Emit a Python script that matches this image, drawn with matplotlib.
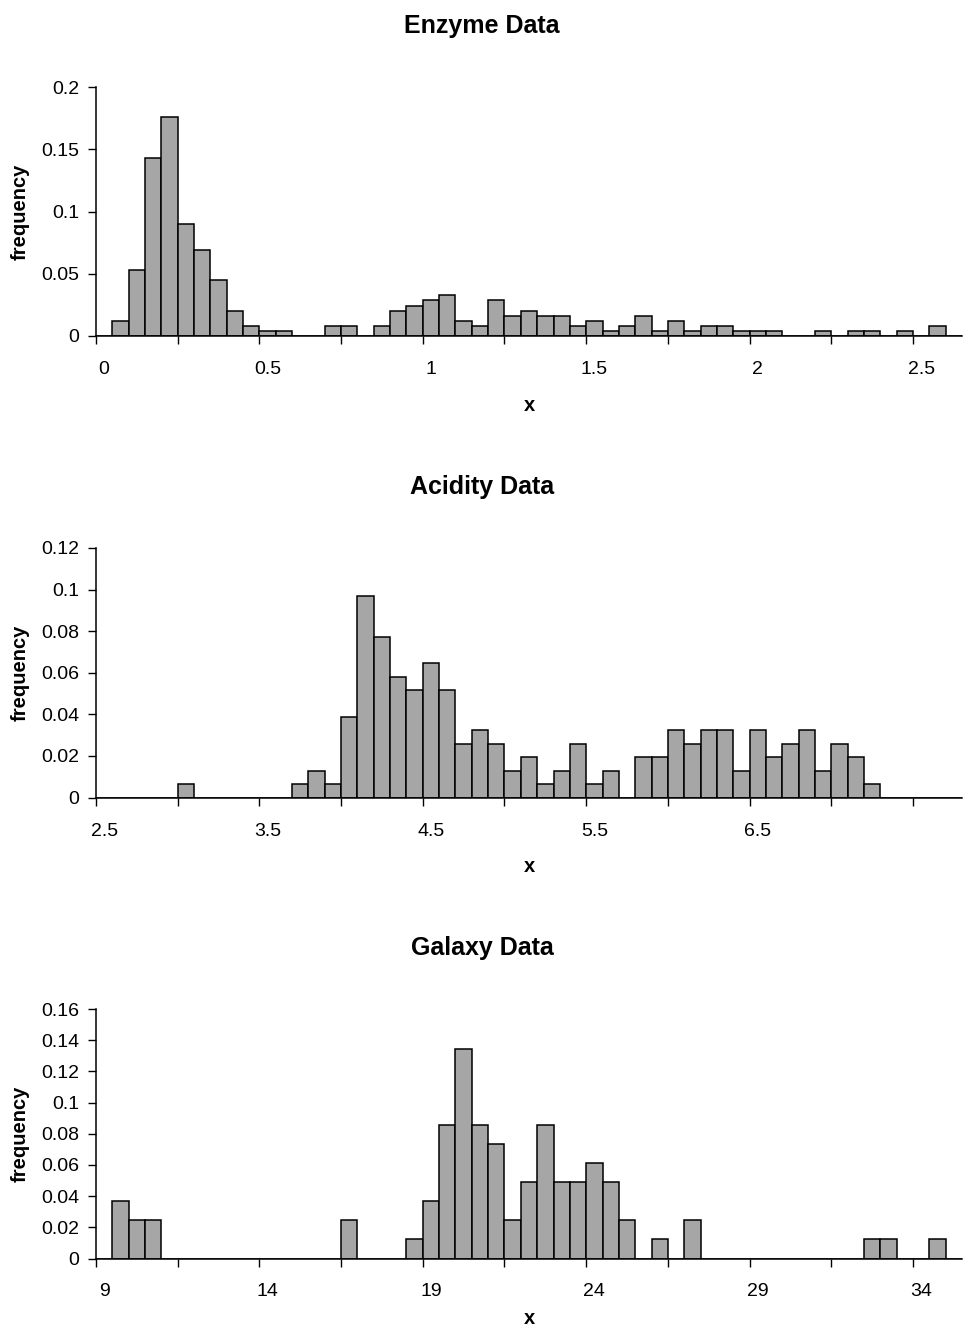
import numpy as np
import matplotlib.pyplot as plt

plt.rcParams['font.family'] = ['Liberation Sans', 'DejaVu Sans']

# bin counts (frequency = count / n)
enzyme_counts = [0, 3, 13, 35, 43, 22, 17, 11, 5, 2, 1, 1, 0, 0, 2, 2, 0, 2, 5, 6,
                 7, 8, 3, 2, 7, 4, 5, 4, 4, 2, 3, 1, 2, 4, 1, 3, 1, 2, 2, 1,
                 1, 1, 0, 0, 1, 0, 1, 1, 0, 1, 0, 2, 0]
enzyme_n = 245
enzyme_labels = ['0', '0.5', '1', '1.5', '2', '2.5']

acidity_counts = [0, 0, 0, 0, 0, 1, 0, 0, 0, 0, 0, 0, 1, 2, 1, 6, 15, 12, 9, 8,
                  10, 8, 4, 5, 4, 2, 3, 1, 2, 4, 1, 2, 0, 3, 3, 5, 4, 5, 5, 2,
                  5, 3, 4, 5, 2, 4, 3, 1, 0, 0, 0, 0, 0]
acidity_n = 155
acidity_labels = ['2.5', '3.5', '4.5', '5.5', '6.5']

galaxy_counts = [0, 3, 2, 2, 0, 0, 0, 0, 0, 0, 0, 0, 0, 0, 0, 2, 0, 0, 0, 1,
                 3, 7, 11, 7, 6, 2, 4, 7, 4, 4, 5, 4, 2, 0, 1, 0, 2, 0, 0, 0,
                 0, 0, 0, 0, 0, 0, 0, 1, 1, 0, 0, 1, 0]
galaxy_n = 82
galaxy_labels = ['9', '14', '19', '24', '29', '34']

W, H = 965, 1333
fig = plt.figure(figsize=(W / 100, H / 100), dpi=100)


def panel(top, bottom, title, counts, n, labels, ymax, ystep, xlab_y):
    left, right = 96, 962
    ax = fig.add_axes([left / W, 1 - bottom / H, (right - left) / W, (bottom - top) / H])
    counts = np.array(counts)
    ncat = len(counts)
    ax.bar(np.arange(ncat), counts / n, width=1, align='edge',
           color='#a6a6a6', edgecolor='black', linewidth=1.1)
    ax.set_xlim(0, ncat)
    ax.set_ylim(0, ymax)
    yt = np.arange(0, ymax + ystep / 2, ystep)
    ax.set_yticks(yt)
    ax.set_yticklabels(['%g' % round(v, 3) for v in yt])
    ax.set_xticks(np.arange(0, 51, 5))
    ax.set_xticklabels([])
    ax.set_xticks(np.arange(len(labels)) * 10 + 0.5, minor=True)
    ax.set_xticklabels(labels, minor=True)
    ax.tick_params(axis='x', which='major', length=6, width=1, direction='out')
    ax.tick_params(axis='x', which='minor', length=0, pad=18, labelsize=14)
    ax.tick_params(axis='y', length=6, width=1, direction='out', pad=6, labelsize=14)
    for s in ['top', 'right']:
        ax.spines[s].set_visible(False)
    for s in ['left', 'bottom']:
        ax.spines[s].set_linewidth(1.1)
    fig.text(482 / W, 1 - (top - 61) / H, title, ha='center', va='center',
             fontsize=18, fontweight='bold')
    fig.text(529 / W, 1 - xlab_y / H, 'x', ha='center', va='center',
             fontsize=14.5, fontweight='bold')
    fig.text(20 / W, 1 - (top + bottom) / 2 / H, 'frequency', ha='center', va='center',
             rotation=90, fontsize=14.5, fontweight='bold')


panel(87, 336, 'Enzyme Data', enzyme_counts, enzyme_n, enzyme_labels, 0.2, 0.05, 405)
panel(548, 797.5, 'Acidity Data', acidity_counts, acidity_n, acidity_labels, 0.12, 0.02, 866)
panel(1009, 1258.5, 'Galaxy Data', galaxy_counts, galaxy_n, galaxy_labels, 0.16, 0.02, 1319)

fig.savefig('out.png', dpi=100)
